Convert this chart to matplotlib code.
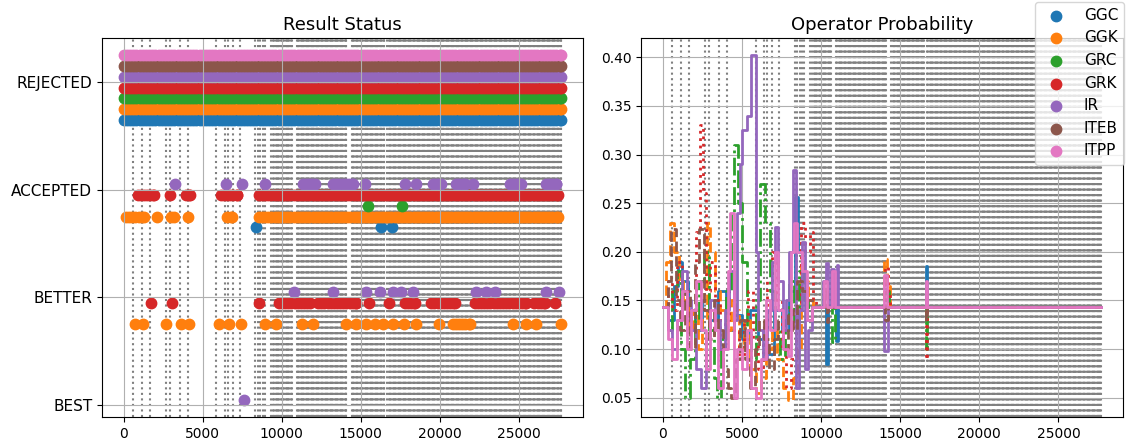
import numpy as np
import matplotlib.pyplot as plt

operators = ['GGC', 'GGK', 'GRC', 'GRK', 'IR', 'ITEB', 'ITPP']
status_labels = ['BEST', 'BETTER', 'ACCEPTED', 'REJECTED']

# outcome runs per operator, (first, last) iteration
rejected_runs = [(0, 27700)]

ggc_accepted = [(8400, 8400), (16310, 16310), (17000, 17000)]
ggk_accepted = [(130, 1270), (2070, 2070), (2970, 3160), (4070, 4070), (6560, 6850), (8550, 27530)]
grc_accepted = [(15460, 15460), (17640, 17640)]
grk_accepted = [(870, 1900), (2910, 2910), (3920, 4220), (6140, 7170), (8550, 27530)]
ir_accepted = [(3230, 3230), (6500, 6500), (7490, 7490), (8970, 8970), (11330, 12090), (13250, 14510),
               (15250, 15250), (17780, 17780), (18530, 18530), (19580, 20110), (21060, 21580),
               (22110, 22110), (24430, 25170), (26750, 27390)]

ggk_better = [(700, 700), (1220, 1220), (2700, 2700), (3610, 3610), (4130, 4130), (6030, 6030),
              (6650, 6650), (7410, 7410), (8970, 8970), (9660, 9660), (11290, 11290), (11980, 11980),
              (14090, 14090), (14730, 14730), (15360, 15360), (15890, 15890), (16410, 16410),
              (17040, 17040), (17720, 17720), (18530, 18530), (19940, 19940), (20840, 21900),
              (24640, 24640), (25490, 25490), (26120, 26120), (27700, 27700)]
grk_better = [(1710, 1710), (3020, 3020), (8570, 8570), (9810, 11770), (12300, 14730), (15530, 15530),
              (16790, 16790), (17780, 18420), (19470, 20950), (22220, 25490), (26010, 26650),
              (27280, 27280)]
ir_better = [(10760, 10760), (13250, 13250), (15360, 15360), (16250, 16250), (17050, 17050),
             (17570, 17570), (18310, 18310), (22320, 22320), (22960, 22960), (23480, 23480),
             (26750, 26750), (27550, 27550)]

ir_best = [(7600, 7600)]

# operator-selection probability over iterations
ggc_x = [0, 300, 700, 950, 1200, 1600, 2000, 2500, 3000, 3500, 4000, 4500, 5000, 5500, 6000, 6500,
         7000, 7500, 8000, 8350, 8550, 8800, 9100, 9400, 10300, 10450, 10950, 11080, 16600, 16720, 27700]
ggc_p = [.143, .13, .165, .19, .17, .14, .12, .15, .13, .16, .12, .135, .11, .14, .11, .095,
         .14, .12, .16, .256, .20, .17, .13, .143, .085, .143, .108, .143, .185, .143, .143]

ggk_x = [0, 200, 440, 700, 1000, 1300, 1600, 1900, 2200, 2500, 2780, 3000, 3300, 3600, 4000, 4300,
         4600, 4800, 5100, 5500, 5900, 6200, 6500, 6900, 7200, 7600, 7900, 8200, 8500, 8700, 8900,
         9200, 9500, 13950, 14150, 14350, 27700]
ggk_p = [.143, .19, .23, .20, .17, .15, .12, .14, .10, .13, .23, .20, .16, .14, .12, .15,
         .14, .10, .13, .08, .055, .07, .10, .12, .09, .06, .048, .07, .10, .19, .17,
         .15, .143, .193, .165, .143, .143]

grc_x = [0, 300, 600, 900, 1150, 1400, 1700, 2000, 2300, 2600, 2900, 3200, 3400, 3700, 4000, 4300,
         4500, 4750, 5000, 5300, 5600, 5900, 6150, 6450, 6800, 7100, 7400, 7700, 8000, 8300, 8600,
         8900, 9200, 10700, 10850, 14100, 14300, 16620, 16720, 27700]
grc_p = [.143, .12, .16, .18, .10, .05, .09, .13, .17, .20, .12, .07, .05, .11, .16, .24,
         .31, .25, .19, .12, .09, .15, .27, .23, .16, .12, .09, .13, .17, .13, .18,
         .15, .143, .107, .143, .16, .143, .10, .143, .143]

grk_x = [0, 300, 600, 900, 1200, 1500, 1800, 2100, 2350, 2550, 2700, 3000, 3300, 3600, 3900, 4200,
         4500, 4800, 5100, 5400, 5700, 6000, 6300, 6600, 6900, 7200, 7500, 7800, 8100, 8400, 8700,
         9000, 9300, 9500, 9650, 14050, 14200, 14350, 16620, 16720, 27700]
grk_p = [.143, .17, .14, .19, .16, .12, .14, .22, .33, .26, .16, .19, .15, .10, .13, .16,
         .12, .09, .13, .16, .11, .08, .12, .17, .20, .15, .10, .06, .09, .14, .23,
         .20, .22, .15, .143, .184, .16, .143, .09, .143, .143]

ir_x = [0, 300, 600, 900, 1200, 1500, 1800, 2100, 2400, 2700, 3000, 3300, 3600, 3900, 4200, 4500,
        4700, 4900, 5000, 5300, 5550, 5880, 6000, 6300, 6600, 6900, 7100, 7300, 7600, 7800, 8000,
        8200, 8400, 8600, 8800, 9000, 9200, 9400, 10150, 10300, 10450, 10650, 10800, 11000, 11100,
        14000, 14200, 16600, 16720, 27700]
ir_p = [.143, .12, .10, .13, .18, .15, .12, .08, .06, .11, .15, .13, .10, .14, .18, .13,
        .24, .29, .325, .34, .402, .20, .12, .09, .14, .19, .226, .17, .12, .15, .20,
        .284, .06, .14, .21, .08, .12, .143, .17, .189, .143, .182, .143, .186, .143,
        .098, .143, .16, .143, .143]

iteb_x = [0, 300, 500, 800, 1100, 1400, 1700, 2000, 2300, 2600, 2900, 3200, 3500, 3800, 4100, 4300,
          4600, 4900, 5200, 5500, 5800, 6100, 6400, 6700, 7000, 7300, 7600, 7900, 8200, 8500, 8800,
          9100, 9400, 10200, 10350, 10450, 14050, 14200, 16620, 16720, 27700]
iteb_p = [.143, .17, .223, .15, .12, .16, .10, .19, .223, .14, .11, .15, .12, .08, .06, .05,
          .09, .13, .09, .06, .10, .13, .11, .08, .11, .13, .10, .14, .12, .17, .16,
          .15, .143, .16, .128, .143, .13, .143, .13, .143, .143]

itpp_x = [0, 300, 600, 900, 1200, 1500, 1800, 2100, 2400, 2700, 3000, 3300, 3500, 3800, 4100, 4250,
          4500, 4700, 5000, 5300, 5600, 5900, 6200, 6500, 6800, 7100, 7300, 7600, 7900, 8100, 8300,
          8500, 8800, 9100, 9400, 10200, 10400, 10700, 10850, 13950, 14150, 16600, 16720, 27700]
itpp_p = [.143, .11, .09, .13, .16, .10, .14, .17, .12, .08, .14, .12, .06, .10, .18, .24,
          .05, .10, .08, .12, .06, .05, .09, .15, .12, .20, .14, .10, .093, .20, .23,
          .20, .18, .13, .143, .17, .143, .18, .143, .176, .143, .17, .143, .143]

# dotted marker lines
sparse_vlines = [590, 1120, 1650, 2660, 2910, 3540, 4070, 5860, 6390, 6600, 6920, 7340,
                 8330, 8480, 8650, 8800, 8950, 9300]
dense_vline_runs = [(9450, 10650), (10950, 14100), (14450, 16500), (16700, 27700)]


def expand(runs, step):
    pts = []
    for a, b in runs:
        pts.extend(np.arange(a, b, step))
        pts.append(b)
    return np.array(pts)


accepted = {'GGC': ggc_accepted, 'GGK': ggk_accepted, 'GRC': grc_accepted,
            'GRK': grk_accepted, 'IR': ir_accepted}
better = {'GGK': ggk_better, 'GRK': grk_better, 'IR': ir_better}
best = {'IR': ir_best}
probs = [(ggc_x, ggc_p), (ggk_x, ggk_p), (grc_x, grc_p), (grk_x, grk_p),
         (ir_x, ir_p), (iteb_x, iteb_p), (itpp_x, itpp_p)]
styles = ['-', '--', '-.', ':', '-', '--', '-']

vline_x = list(sparse_vlines) + list(expand(dense_vline_runs, 80))

fig = plt.figure(figsize=(11.26, 4.48), dpi=100)
ax1 = fig.add_axes([102/1126, 31/448, 481/1126, 379/448])
ax2 = fig.add_axes([641/1126, 31/448, 482/1126, 379/448])

for ax in (ax1, ax2):
    for x in vline_x:
        ax.axvline(x, color='gray', linestyle=':', lw=1.5, zorder=0.5)

for i, op in enumerate(operators):
    off = (i - 3.5) * 0.1
    c = 'C%d' % i
    for level, runs in ((3, rejected_runs), (2, accepted.get(op, [])),
                        (1, better.get(op, [])), (0, best.get(op, []))):
        if not runs:
            continue
        xs = expand(runs, 200)
        ax1.scatter(xs, np.full(len(xs), level + off), s=56, color=c,
                    label=op if level == 3 else None)

ax1.set_yticks(range(4))
ax1.set_yticklabels(status_labels, fontsize=11)
ax1.set_title('Result Status', fontsize=13)
ax1.grid(True)

for i, (xs, ps) in enumerate(probs):
    ax2.plot(xs, ps, color='C%d' % i, linestyle=styles[i], lw=2, drawstyle='steps-post')
ax2.set_title('Operator Probability', fontsize=13)
ax2.grid(True)

handles, labels = ax1.get_legend_handles_labels()
fig.legend(handles, labels, loc='upper right', bbox_to_anchor=(1.0, 1.0),
           borderaxespad=0.1, fontsize=11)

fig.savefig('out.png', dpi=100)
